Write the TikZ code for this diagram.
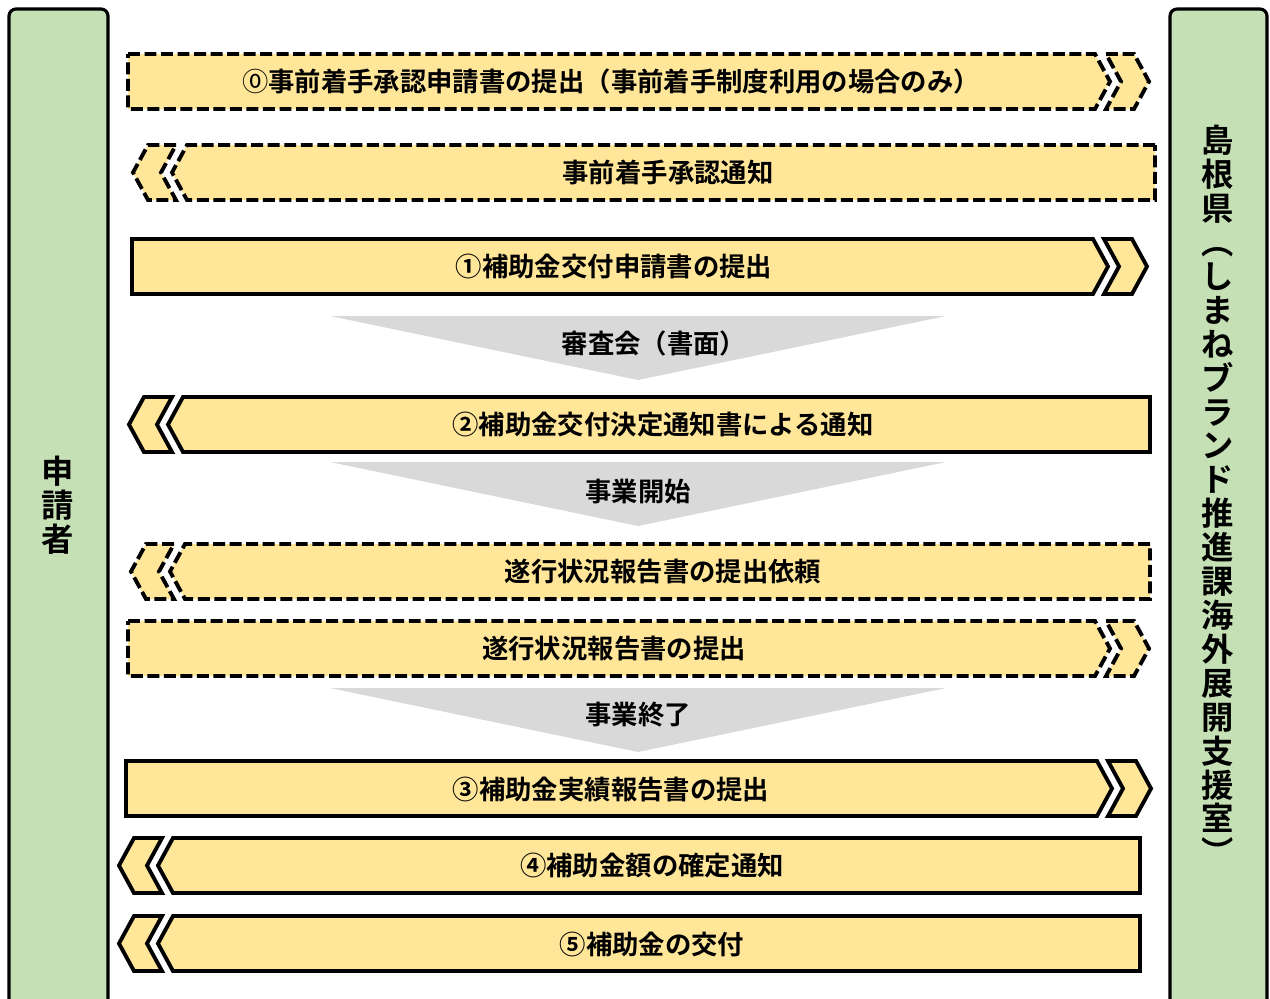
\documentclass[tikz,border=0pt]{standalone}
\usepackage{fontspec}
\setmainfont{Noto Sans CJK JP}[BoldFont={Noto Sans CJK JP Bold}]
\usepackage{tikz}

\definecolor{rowyellow}{HTML}{FFE699}
\definecolor{sidegreen}{HTML}{C5E0B4}
\definecolor{stepgray}{HTML}{D9D9D9}

\begin{document}
\begin{tikzpicture}[x=0.02cm, y=-0.02cm, line join=miter,
		rowbox/.style = {draw=black, line width=2.2pt, fill=rowyellow},
		dashedbox/.style = {rowbox, dash pattern=on 6.8pt off 2.6pt}]
		\tikzset{rowtext/.style={inner sep=0pt, font=\fontsize{15pt}{17pt}\selectfont\bfseries},
			sidetext/.style={inner sep=0pt, align=center, font=\fontsize{18.4pt}{19.3pt}\selectfont\bfseries},
			sidepanel/.style={draw=black, line width=1.8pt, fill=sidegreen, rounded corners=4pt},
			stepdown/.style={fill=stepgray, draw=none}}

		\useasboundingbox (0,0) rectangle (1270,998);

		% Side panels
		\draw[sidepanel] (9,1020) -- (9,9) -- (108,9) -- (108,1020);
		\draw[sidepanel] (1170,1020) -- (1170,9) -- (1267,9) -- (1267,1020);
		\node[sidetext] (applicant) at (58,505) {申\\請\\者};
		\node[sidetext] (prefecture) at (1218,495) {島\\根\\県\\︵\\し\\ま\\ね\\ブ\\ラ\\ン\\ド\\推\\進\\課\\海\\外\\展\\開\\支\\援\\室\\︶};

		% Prior start
		\draw[dashedbox] (128,54) -- (1095,54) -- ++(15,27.5) -- ++(-15,27.5) -- (128,109) -- cycle;
		\draw[dashedbox] (1106,54) -- ++(28,0) -- ++(15,27.5) -- ++(-15,27.5) -- ++(-28,0) -- ++(15,-27.5) -- cycle;
		\node[rowtext] (priorapply) at (611,81) {{\mdseries ⓪}事前着手承認申請書の提出（事前着手制度利用の場合のみ）};

		\draw[dashedbox] (1155,145) -- (187,145) -- ++(-15,27.5) -- ++(15,27.5) -- (1155,200) -- cycle;
		\draw[dashedbox] (176,145) -- ++(-28,0) -- ++(-15,27.5) -- ++(15,27.5) -- ++(28,0) -- ++(-15,-27.5) -- cycle;
		\node[rowtext] (priorok) at (668,172) {事前着手承認通知};

		% Application
		\draw[rowbox] (132,239) -- (1093,239) -- ++(15,27.5) -- ++(-15,27.5) -- (132,294) -- cycle;
		\draw[rowbox] (1104,239) -- ++(28,0) -- ++(15,27.5) -- ++(-15,27.5) -- ++(-28,0) -- ++(15,-27.5) -- cycle;
		\node[rowtext] (apply) at (614,266) {①補助金交付申請書の提出};

		\fill[stepdown] (330,316) -- (946,316) -- (638,380) -- cycle;
		\node[rowtext] (review) at (654,343) {審査会（書面）};

		\draw[rowbox] (1150,397) -- (183,397) -- ++(-15,27.5) -- ++(15,27.5) -- (1150,452) -- cycle;
		\draw[rowbox] (172,397) -- ++(-28,0) -- ++(-15,27.5) -- ++(15,27.5) -- ++(28,0) -- ++(-15,-27.5) -- cycle;
		\node[rowtext] (decision) at (663,425) {②補助金交付決定通知書による通知};

		\fill[stepdown] (330,462) -- (946,462) -- (638,526) -- cycle;
		\node[rowtext] (start) at (638,492) {事業開始};

		% Progress
		\draw[dashedbox] (1150,544) -- (185,544) -- ++(-15,27.5) -- ++(15,27.5) -- (1150,599) -- cycle;
		\draw[dashedbox] (174,544) -- ++(-28,0) -- ++(-15,27.5) -- ++(15,27.5) -- ++(28,0) -- ++(-15,-27.5) -- cycle;
		\node[rowtext] (progreq) at (663,571) {遂行状況報告書の提出依頼};

		\draw[dashedbox] (128,621) -- (1095,621) -- ++(15,27.5) -- ++(-15,27.5) -- (128,676) -- cycle;
		\draw[dashedbox] (1106,621) -- ++(28,0) -- ++(15,27.5) -- ++(-15,27.5) -- ++(-28,0) -- ++(15,-27.5) -- cycle;
		\node[rowtext] (progrep) at (614,648) {遂行状況報告書の提出};

		\fill[stepdown] (330,688) -- (946,688) -- (638,752) -- cycle;
		\node[rowtext] (finish) at (638,715) {事業終了};

		% Results and payment
		\draw[rowbox] (126,761) -- (1097,761) -- ++(15,27.5) -- ++(-15,27.5) -- (126,816) -- cycle;
		\draw[rowbox] (1108,761) -- ++(28,0) -- ++(15,27.5) -- ++(-15,27.5) -- ++(-28,0) -- ++(15,-27.5) -- cycle;
		\node[rowtext] (report) at (611,789) {③補助金実績報告書の提出};

		\draw[rowbox] (1140,838) -- (173,838) -- ++(-15,27.5) -- ++(15,27.5) -- (1140,893) -- cycle;
		\draw[rowbox] (162,838) -- ++(-28,0) -- ++(-15,27.5) -- ++(15,27.5) -- ++(28,0) -- ++(-15,-27.5) -- cycle;
		\node[rowtext] (fixamount) at (652,866) {④補助金額の確定通知};

		\draw[rowbox] (1140,916) -- (173,916) -- ++(-15,27.5) -- ++(15,27.5) -- (1140,971) -- cycle;
		\draw[rowbox] (162,916) -- ++(-28,0) -- ++(-15,27.5) -- ++(15,27.5) -- ++(28,0) -- ++(-15,-27.5) -- cycle;
		\node[rowtext] (payment) at (652,944) {⑤補助金の交付};

	\end{tikzpicture}
\end{document}
